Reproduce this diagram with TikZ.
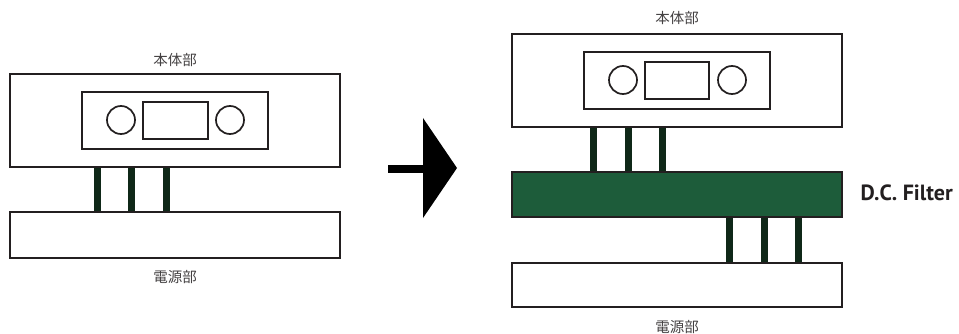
\documentclass[tikz,border=0pt]{standalone}
\usepackage{fontspec}
\usepackage{tikz}
\newfontfamily\jpfont{Noto Sans CJK JP}
\newfontfamily\labelfont{PT Sans}
\usetikzlibrary{positioning}
\definecolor{filtergreen}{HTML}{1D5C3A}
\definecolor{leaddark}{HTML}{0F2818}
\definecolor{edgegray}{HTML}{231F20}

\begin{document}
\begin{tikzpicture}[x=1pt, y=-1pt,
  unitbox/.style={draw=edgegray, line width=2.2pt, fill=white},
  facepart/.style={draw=edgegray, line width=1.7pt},
  leadbar/.style={fill=leaddark},
  partlabel/.style={font=\jpfont\fontsize{14.5}{15}\selectfont, text=edgegray!85}]
  \useasboundingbox (0,0) rectangle (959,334);
  % before: leads
  \foreach \x in {97,131,166}
    \fill[leadbar] (\x-3.5,160) rectangle (\x+3.5,216);
  % before: body and power unit
  \draw[unitbox] (10,74) rectangle (340,167);
  \draw[unitbox] (10,212) rectangle (340,258);
  \draw[facepart] (82,92) rectangle (268,149);
  \draw[facepart] (121,120) circle[radius=14pt];
  \draw[facepart] (230,120) circle[radius=14pt];
  \draw[facepart] (143,102) rectangle (208,139);
  \node[partlabel] (bodyL) at (175,60) {本体部};
  \node[partlabel] (powerL) at (175,277) {電源部};
  % arrow
  \fill (388,165) rectangle (424,173);
  \fill (423,118) -- (457,168) -- (423,218) -- cycle;
  % after: leads
  \foreach \x in {593,628,662}
    \fill[leadbar] (\x-3.5,120) rectangle (\x+3.5,176);
  \foreach \x in {729,764,798}
    \fill[leadbar] (\x-3.5,212) rectangle (\x+3.5,268);
  % after: body, filter and power unit
  \draw[unitbox] (512,34) rectangle (842,127);
  \draw[unitbox, fill=filtergreen] (512,172) rectangle (842,217);
  \draw[unitbox] (512,263) rectangle (842,307);
  \draw[facepart] (584,52) rectangle (770,109);
  \draw[facepart] (623,80) circle[radius=14pt];
  \draw[facepart] (732,80) circle[radius=14pt];
  \draw[facepart] (645,62) rectangle (709,99);
  \node[partlabel] (bodyR) at (677,18) {本体部};
  \node[partlabel] (powerR) at (677,327) {電源部};
  \node[anchor=west, text=edgegray, font=\labelfont\bfseries\fontsize{22}{22}\selectfont] (filterlbl) at (857,193) {D.C. Filter};
\end{tikzpicture}
\end{document}
